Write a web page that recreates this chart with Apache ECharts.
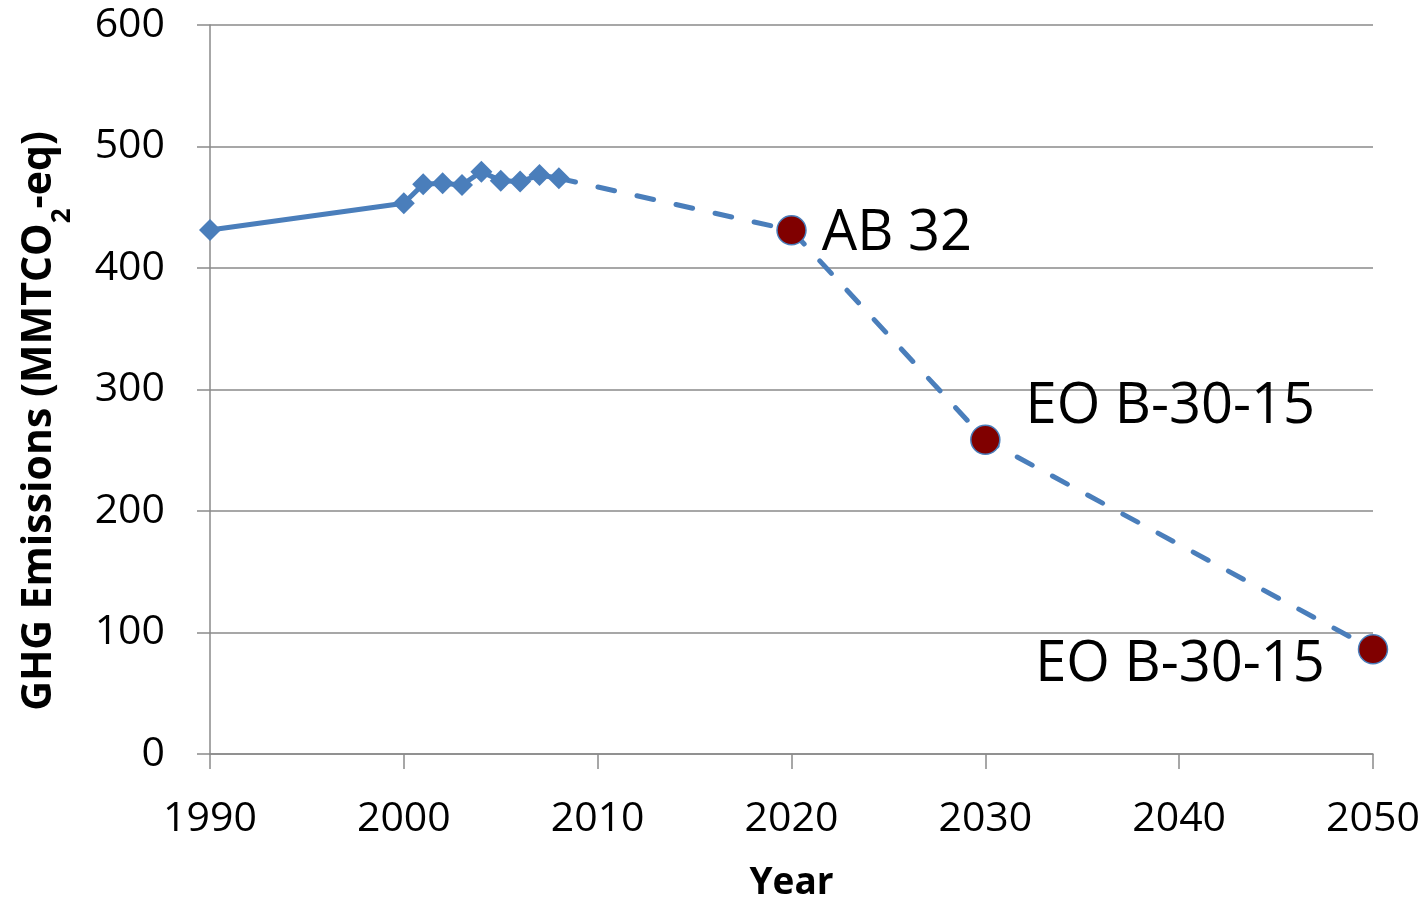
<!DOCTYPE html>
<html>
<head>
<meta charset="utf-8">
<script src="https://cdn.jsdelivr.net/npm/echarts@6/dist/echarts.min.js"></script>
<style>
html,body{margin:0;padding:0;background:#fff;}
#c{width:1427px;height:903px;}
</style>
</head>
<body>
<div id="c"></div>
<script>
// Historical emissions (MMTCO2-eq)
const histYears  = [1990, 2000, 2001, 2002, 2003, 2004, 2005, 2006, 2007, 2008];
const histValues = [431.3, 453.3, 468.9, 469.7, 468.3, 479.3, 471.9, 471.1, 476.5, 473.8];
// Policy targets
const targetYears  = [2020, 2030, 2050];
const targetValues = [431.0, 258.6, 86.2];
const targetLabels = ['AB 32', 'EO B-30-15', 'EO B-30-15'];
// Axis ticks
const xTicks = [1990, 2000, 2010, 2020, 2030, 2040, 2050];
const yTicks = [0, 100, 200, 300, 400, 500, 600];
const yTitle = 'GHG Emissions (MMTCO{sub|2}-eq)';

const FONT = '"Open Sans", "Noto Sans", sans-serif';
const BLUE = '#4A7EBB';
const GRID = '#8a8a8a';

const labelPlacement = [
  {position: 'right', distance: 15, offset: [0, 4]},
  {position: 'right', distance: 25, offset: [0, -33]},
  {position: 'left', distance: 33, offset: [0, 16]}
];

const histData = histYears.map((y, i) => [y, histValues[i]]);
const dashData = [{value: [histYears[histYears.length - 1], histValues[histValues.length - 1]], symbol: 'none', label: {show: false}}]
  .concat(targetYears.map((y, i) => ({
    value: [y, targetValues[i]],
    label: Object.assign({show: true, formatter: targetLabels[i]}, labelPlacement[i])
  })));

const chart = echarts.init(document.getElementById('c'), null, {renderer: 'canvas'});
chart.setOption({
  animation: false,
  backgroundColor: '#ffffff',
  grid: {left: 210, right: 54, top: 25, bottom: 149, containLabel: false, outerBoundsMode: 'none'},
  graphic: [{
    type: 'text',
    x: 39, y: 421,
    rotation: Math.PI / 2,
    style: {
      text: yTitle,
      fontFamily: FONT, fontWeight: 'bold', fontSize: 41, fill: '#000',
      align: 'center', verticalAlign: 'middle',
      rich: {sub: {fontFamily: FONT, fontWeight: 'bold', fontSize: 26, fill: '#000', verticalAlign: 'bottom', padding: [0, 0, -16, 0]}}
    }
  }],
  xAxis: {
    type: 'value',
    min: xTicks[0], max: xTicks[xTicks.length - 1], interval: 10,
    name: 'Year',
    nameLocation: 'middle',
    nameGap: 111,
    nameTextStyle: {fontFamily: FONT, fontWeight: 'bold', fontSize: 37, color: '#000'},
    axisLine: {show: true, lineStyle: {color: GRID, width: 1.5}},
    axisTick: {show: true, length: 15, lineStyle: {color: GRID, width: 1.5}},
    axisLabel: {fontFamily: FONT, fontSize: 41, color: '#000', margin: 45, formatter: v => String(v)},
    splitLine: {show: false}
  },
  yAxis: {
    type: 'value',
    min: yTicks[0], max: yTicks[yTicks.length - 1], interval: 100,
    axisLine: {show: true, lineStyle: {color: GRID, width: 1.5}},
    axisTick: {show: true, length: 13, lineStyle: {color: GRID, width: 1.5}},
    axisLabel: {fontFamily: FONT, fontSize: 41, color: '#000', margin: 45},
    splitLine: {show: true, lineStyle: {color: GRID, width: 1.5}}
  },
  series: [
    {
      type: 'line',
      data: dashData,
      z: 2,
      symbol: 'circle',
      symbolSize: 29,
      lineStyle: {color: BLUE, width: 5, type: [17, 23], cap: 'round'},
      itemStyle: {color: '#800000', borderColor: BLUE, borderWidth: 1.5},
      label: {fontFamily: FONT, fontSize: 56, color: '#000'}
    },
    {
      type: 'line',
      data: histData,
      z: 3,
      symbol: 'diamond',
      symbolSize: 22,
      lineStyle: {color: BLUE, width: 5},
      itemStyle: {color: BLUE}
    }
  ]
});
</script>
</body>
</html>
